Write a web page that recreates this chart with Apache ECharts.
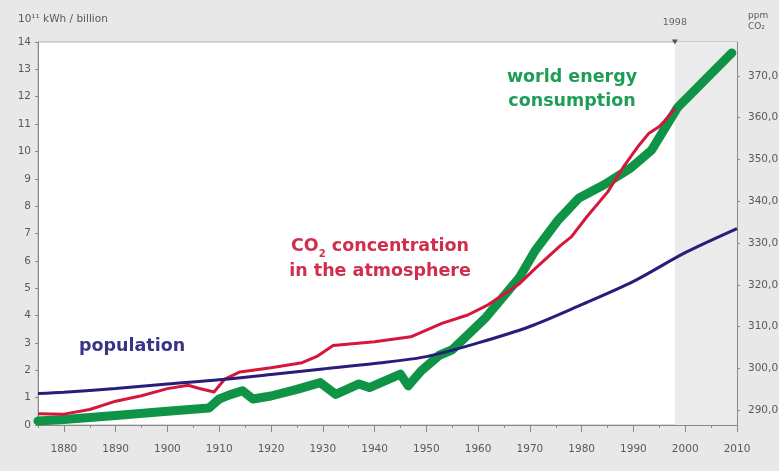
<!DOCTYPE html>
<html><head><meta charset="utf-8">
<script src="https://cdn.jsdelivr.net/npm/echarts@6/dist/echarts.min.js"></script>
<style>html,body{margin:0;padding:0;background:#e8e8e8}#c{width:779px;height:471px}</style>
</head><body><div id="c"></div>
<script>
// Population (billion, left axis)
const popYears = [1875,1880,1890,1900,1910,1920,1930,1940,1950,1960,1970,1980,1990,2000,2010];
const popValues = [1.15,1.2,1.33,1.5,1.65,1.85,2.05,2.25,2.5,3.0,3.6,4.4,5.25,6.3,7.18];
// CO2 concentration (ppm, right axis)
const co2Years = [1875,1880,1885,1890,1895,1900,1904,1906,1909,1911,1914,1920,1926,1929,1932,1940,1947,1953,1958,1962,1968,1971,1976,1978,1981,1985,1988,1991,1993,1995,1996,1998];
const co2Ppm = [289.2,289.1,290.2,292.2,293.5,295.2,296.0,295.3,294.4,297.4,299.2,300.2,301.4,303.0,305.5,306.4,307.6,310.8,312.8,315.3,320.3,323.9,329.5,331.5,336.3,342.2,348.1,353.3,356.3,357.9,359.2,362.2];
// World energy consumption (10^11 kWh, left axis)
const energyYears = [1875,1880,1890,1900,1908,1910,1912,1914.5,1916.5,1920,1925,1929.5,1932.5,1937,1939,1945,1946.5,1949,1952.5,1955,1961.5,1968,1971,1975.5,1979.5,1984.5,1989.5,1993.5,1998.5,2009];
const energyValues = [0.15,0.2,0.35,0.5,0.62,0.95,1.1,1.25,0.95,1.06,1.3,1.55,1.12,1.5,1.37,1.86,1.43,1.98,2.55,2.75,3.93,5.4,6.37,7.5,8.3,8.8,9.4,10.05,11.6,13.6];
// Axis ticks
const decadeTicks = [1880,1890,1900,1910,1920,1930,1940,1950,1960,1970,1980,1990,2000,2010];
const ppmTicks = [290,300,310,320,330,340,350,360,370];
const markerYear = 1998;

const zip = (a,b) => a.map((v,i)=>[v,b[i]]);
const chart = echarts.init(document.getElementById('c'), null, {renderer:'canvas'});
const axisGrey = '#8a8a8a';
const labelGrey = '#5a5a5a';
const F = 'DejaVu Sans';
chart.setOption({
  backgroundColor:'#e8e8e8',
  animation:false,
  grid:{left:38,right:42,top:42,bottom:46,outerBoundsMode:'none',containLabel:false,show:true,backgroundColor:'#ffffff',borderColor:'#b0b0b0',borderWidth:1},
  xAxis:[{
    type:'value',min:1875,max:2010,interval:5,
    axisLine:{lineStyle:{color:axisGrey}},
    axisTick:{length:3,lineStyle:{color:axisGrey}},
    axisLabel:{formatter:v=>v%10===0?String(v):'',fontSize:10.5,color:labelGrey,margin:19,fontFamily:F},
    splitLine:{show:false}
  },{
    type:'value',min:1875,max:2010,position:'bottom',
    axisLine:{show:false},
    axisTick:{show:true,length:7,customValues:decadeTicks,lineStyle:{color:axisGrey}},
    axisLabel:{show:false},
    splitLine:{show:false}
  }],
  yAxis:[{
    type:'value',min:0,max:14,interval:1,
    name:'10¹¹ kWh / billion',nameLocation:'end',nameGap:17,
    nameTextStyle:{align:'left',padding:[0,0,0,-20],fontSize:10.5,color:labelGrey,fontFamily:F},
    axisLine:{show:true,lineStyle:{color:axisGrey}},
    axisTick:{show:true,length:3,lineStyle:{color:axisGrey}},
    axisLabel:{fontSize:10.5,color:labelGrey,margin:7,fontFamily:F},
    splitLine:{show:false}
  },{
    type:'value',position:'right',min:286.5,max:378.1,
    name:'ppm\nCO₂',nameLocation:'end',nameGap:10,
    nameTextStyle:{align:'left',padding:[0,0,0,11],fontSize:9,lineHeight:11,color:labelGrey,fontFamily:F},
    axisLine:{show:true,lineStyle:{color:axisGrey}},
    axisTick:{show:true,length:3,customValues:ppmTicks,lineStyle:{color:axisGrey}},
    axisLabel:{customValues:ppmTicks,formatter:v=>v.toFixed(1).replace('.',','),fontSize:10.5,color:labelGrey,margin:11,fontFamily:F},
    splitLine:{show:false}
  }],
  series:[
    {type:'line',name:'energy',data:zip(energyYears,energyValues),xAxisIndex:0,yAxisIndex:0,showSymbol:false,z:3,
     lineStyle:{color:'#0f9447',width:9,cap:'round',join:'round'},
     markArea:{silent:true,itemStyle:{color:'#ebebeb'},data:[[{xAxis:markerYear},{xAxis:2010}]]}},
    {type:'line',name:'co2',data:zip(co2Years,co2Ppm),xAxisIndex:0,yAxisIndex:1,showSymbol:false,z:4,
     lineStyle:{color:'#d5173c',width:3,join:'round'}},
    {type:'line',name:'population',data:zip(popYears,popValues),xAxisIndex:0,yAxisIndex:0,showSymbol:false,smooth:0.3,z:5,
     lineStyle:{color:'#2a1c7a',width:3}},
    {type:'scatter',data:[[markerYear,14]],xAxisIndex:0,yAxisIndex:0,clip:false,z:6,
     symbol:'triangle',symbolRotate:180,symbolSize:[6,5],itemStyle:{color:'#333'},
     label:{show:true,position:'top',distance:12,formatter:p=>String(p.value[0]),fontSize:9.5,color:'#444',fontFamily:F}}
  ],
  graphic:[
    {type:'text',x:572,y:65,z:10,style:{text:'world energy\nconsumption',align:'center',fill:'#1f9c55',font:'bold 17.5px "DejaVu Sans"',lineHeight:24}},
    {type:'text',x:380,y:234,z:10,style:{
      text:'{n|CO}{s|2}{n| concentration}\n{n|in the atmosphere}',align:'center',
      rich:{n:{fill:'#cf2f4c',font:'bold 17.5px "DejaVu Sans"',lineHeight:25},s:{fill:'#cf2f4c',font:'bold 10px "DejaVu Sans"',lineHeight:25,verticalAlign:'bottom',padding:[9,0,0,0]}}}},
    {type:'text',x:79,y:337,z:10,style:{text:'population',fill:'#3a3386',font:'bold 17.5px "DejaVu Sans"'}}
  ]
});
</script></body></html>
